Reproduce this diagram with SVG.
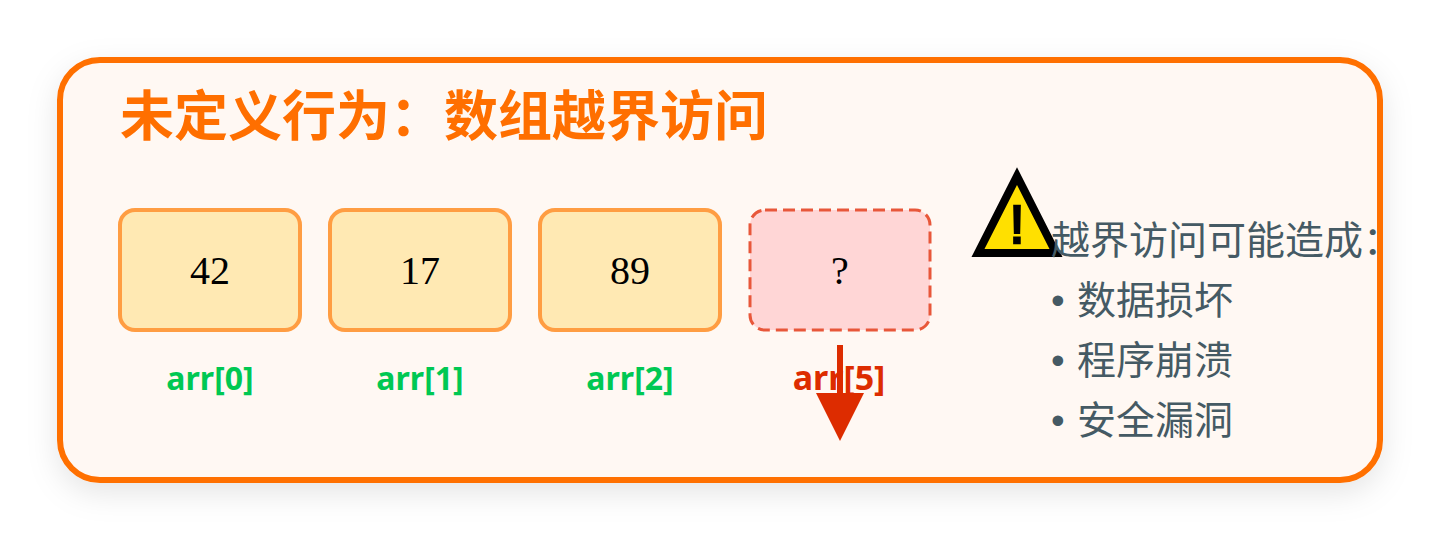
<svg xmlns="http://www.w3.org/2000/svg" width="1440" height="540" viewBox="0 0 1440 540">
<defs>
<filter id="sh" x="-10%" y="-20%" width="120%" height="140%"><feDropShadow dx="0" dy="10" stdDeviation="15" flood-color="#000" flood-opacity="0.1"/></filter>
</defs>
<style>
text{font-family:"Noto Sans CJK SC","Noto Sans",sans-serif}
.cell{fill:#ffe9b3;stroke:#ff9d42;stroke-width:4}
.bad{fill:#ffd6d6;stroke:#e8573a;stroke-width:3;stroke-dasharray:12 6}
.val{font-family:"Liberation Serif","Noto Sans CJK SC",serif;font-size:40px;text-anchor:middle;fill:#000}
.idx{font-family:"Noto Sans","Noto Sans CJK SC",sans-serif;font-size:32px;font-weight:700;text-anchor:middle;fill:#00c853}
.note{font-size:39px;fill:#455a64}
.dot{font-family:"Liberation Sans",sans-serif}
</style>
<rect width="1440" height="540" fill="#fff"/>
<g id="panel"><rect x="60" y="60" width="1320" height="420" rx="40" fill="#fff8f3" stroke="#ff6f00" stroke-width="6" filter="url(#sh)"/></g>
<g id="title"><text x="120" y="136" font-size="54" font-weight="700" fill="#ff6f00">未定义行为：数组越界访问</text></g>
<g id="cell0"><rect class="cell" x="120" y="210" width="180" height="120" rx="15"/><text class="val" x="210" y="284">42</text><text class="idx" x="210" y="390">arr[0]</text></g>
<g id="cell1"><rect class="cell" x="330" y="210" width="180" height="120" rx="15"/><text class="val" x="420" y="284">17</text><text class="idx" x="420" y="390">arr[1]</text></g>
<g id="cell2"><rect class="cell" x="540" y="210" width="180" height="120" rx="15"/><text class="val" x="630" y="284">89</text><text class="idx" x="630" y="390">arr[2]</text></g>
<g id="cell5"><rect class="bad" x="750" y="210" width="180" height="120" rx="15"/><text class="val" x="840" y="284">?</text><text class="idx" x="839" y="390" style="fill:#dd2c00;font-size:34px">arr[5]</text></g>
<g id="connectors"><path d="M840 345V395" stroke="#dd2c00" stroke-width="6" fill="none"/><path d="M816 393H864L840 441Z" fill="#dd2c00"/></g>
<g id="warning"><path d="M1017 176L978 253H1056Z" fill="#ffe000" stroke="#000" stroke-width="8"/><text x="1017" y="243" font-size="54" text-anchor="middle" fill="#000" stroke="#000" stroke-width="2.5" style="font-family:'Liberation Sans',sans-serif">!</text></g>
<g id="note">
<text class="note" x="1051" y="254">越界访问可能造成：</text>
<text class="note" x="1051" y="314"><tspan class="dot">•</tspan><tspan x="1077">数据损坏</tspan></text>
<text class="note" x="1051" y="374"><tspan class="dot">•</tspan><tspan x="1077">程序崩溃</tspan></text>
<text class="note" x="1051" y="434"><tspan class="dot">•</tspan><tspan x="1077">安全漏洞</tspan></text>
</g>
</svg>
